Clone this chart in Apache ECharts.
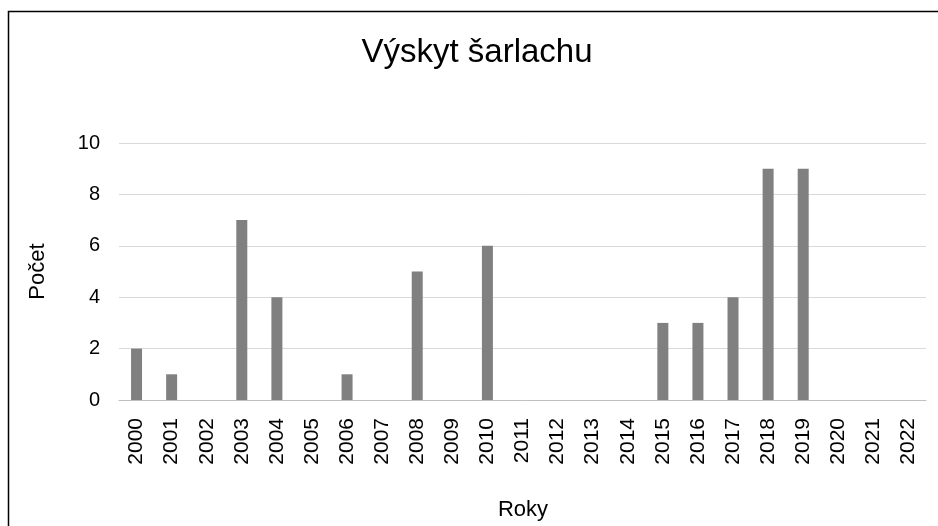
<!DOCTYPE html>
<html>
<head>
<meta charset="utf-8">
<script src="https://cdn.jsdelivr.net/npm/echarts@6/dist/echarts.min.js"></script>
<style>
  html, body { margin: 0; padding: 0; background: #fff; }
  #chart { width: 938px; height: 526px; }
</style>
</head>
<body>
<div id="chart"></div>
<script>
// data
const years = ['2000', '2001', '2002', '2003', '2004', '2005', '2006', '2007', '2008', '2009', '2010', '2011',
  '2012', '2013', '2014', '2015', '2016', '2017', '2018', '2019', '2020', '2021', '2022'];
const counts = [2, 1, 0, 7, 4, 0, 1, 0, 5, 0, 6, 0, 0, 0, 0, 3, 3, 4, 9, 9, 0, 0, 0];
const yTicks = [0, 2, 4, 6, 8, 10];

const font = "'Liberation Sans', Arial, sans-serif";

const chart = echarts.init(document.getElementById('chart'));

chart.setOption({
  backgroundColor: '#fff',
  animation: false,
  title: {
    text: 'Výskyt šarlachu',
    left: 472,
    top: 31,
    textAlign: 'center',
    textStyle: { fontFamily: font, fontSize: 33, fontWeight: 'normal', color: '#000' }
  },
  // chart frame (cut off at right and bottom in the reference)
  graphic: [{
    type: 'rect',
    shape: { x: 8.5, y: 11.5, width: 960, height: 560 },
    style: { fill: 'none', stroke: '#000', lineWidth: 1.5 },
    silent: true
  }, {
    type: 'text',
    x: 523,
    y: 499,
    style: { text: 'Roky', fontFamily: font, fontSize: 22, fill: '#000', align: 'center' }
  }],
  grid: { left: 119, right: 12, top: 143, bottom: 126 },
  xAxis: {
    type: 'category',
    data: years,
    axisLine: { lineStyle: { color: '#bfbfbf', width: 1 } },
    axisTick: { show: false },
    axisLabel: {
      rotate: 90,
      margin: 18,
      fontFamily: font,
      fontSize: 21,
      color: '#000'
    }
  },
  yAxis: {
    type: 'value',
    min: yTicks[0],
    max: yTicks[yTicks.length - 1],
    interval: 2,
    name: 'Počet',
    nameLocation: 'middle',
    nameGap: 70,
    nameTextStyle: { fontFamily: font, fontSize: 22, color: '#000' },
    axisLine: { show: false },
    axisTick: { show: false },
    axisLabel: { fontFamily: font, fontSize: 20, color: '#000', margin: 19 },
    splitLine: { lineStyle: { color: '#d9d9d9', width: 1 } }
  },
  series: [{
    type: 'bar',
    data: counts,
    barWidth: 11,
    itemStyle: { color: '#808080' }
  }]
});
</script>
</body>
</html>
